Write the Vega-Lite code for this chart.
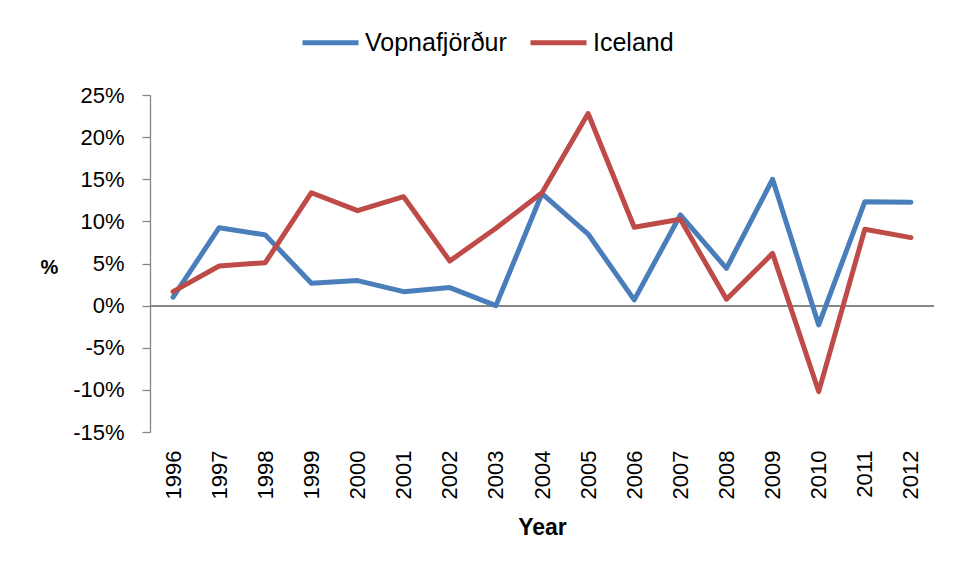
{
  "$schema": "https://vega.github.io/schema/vega-lite/v6.json",
  "width": 784,
  "height": 337,
  "autosize": {"type": "none"},
  "padding": {"left": 150, "top": 95, "right": 28, "bottom": 145},
  "background": "white",
  "config": {"font": "Liberation Sans", "view": {"stroke": null}},
  "data": {
    "values": [
      {"Year": "1996", "Series": "Vopnafjörður", "Value": 1.0},
      {"Year": "1997", "Series": "Vopnafjörður", "Value": 9.25},
      {"Year": "1998", "Series": "Vopnafjörður", "Value": 8.4},
      {"Year": "1999", "Series": "Vopnafjörður", "Value": 2.65},
      {"Year": "2000", "Series": "Vopnafjörður", "Value": 2.97},
      {"Year": "2001", "Series": "Vopnafjörður", "Value": 1.66},
      {"Year": "2002", "Series": "Vopnafjörður", "Value": 2.14},
      {"Year": "2003", "Series": "Vopnafjörður", "Value": 0.0},
      {"Year": "2004", "Series": "Vopnafjörður", "Value": 13.3},
      {"Year": "2005", "Series": "Vopnafjörður", "Value": 8.5},
      {"Year": "2006", "Series": "Vopnafjörður", "Value": 0.68},
      {"Year": "2007", "Series": "Vopnafjörður", "Value": 10.76},
      {"Year": "2008", "Series": "Vopnafjörður", "Value": 4.43},
      {"Year": "2009", "Series": "Vopnafjörður", "Value": 15.0},
      {"Year": "2010", "Series": "Vopnafjörður", "Value": -2.29},
      {"Year": "2011", "Series": "Vopnafjörður", "Value": 12.34},
      {"Year": "2012", "Series": "Vopnafjörður", "Value": 12.26},
      {"Year": "1996", "Series": "Iceland", "Value": 1.66},
      {"Year": "1997", "Series": "Iceland", "Value": 4.71},
      {"Year": "1998", "Series": "Iceland", "Value": 5.1},
      {"Year": "1999", "Series": "Iceland", "Value": 13.4},
      {"Year": "2000", "Series": "Iceland", "Value": 11.27},
      {"Year": "2001", "Series": "Iceland", "Value": 12.93},
      {"Year": "2002", "Series": "Iceland", "Value": 5.3},
      {"Year": "2003", "Series": "Iceland", "Value": 9.18},
      {"Year": "2004", "Series": "Iceland", "Value": 13.4},
      {"Year": "2005", "Series": "Iceland", "Value": 22.8},
      {"Year": "2006", "Series": "Iceland", "Value": 9.3},
      {"Year": "2007", "Series": "Iceland", "Value": 10.25},
      {"Year": "2008", "Series": "Iceland", "Value": 0.76},
      {"Year": "2009", "Series": "Iceland", "Value": 6.2},
      {"Year": "2010", "Series": "Iceland", "Value": -10.2},
      {"Year": "2011", "Series": "Iceland", "Value": 9.06},
      {"Year": "2012", "Series": "Iceland", "Value": 8.07}
    ]
  },
  "layer": [
    {
      "mark": {"type": "rule", "color": "#868686", "strokeWidth": 1.3},
      "encoding": {"y": {"datum": 0, "type": "quantitative", "scale": {"domain": [-15, 25], "nice": false}}}
    },
    {
      "mark": {"type": "line", "strokeWidth": 5, "strokeCap": "round", "strokeJoin": "round"},
      "encoding": {
        "x": {
          "field": "Year",
          "type": "ordinal",
          "scale": {"type": "point", "padding": 0.5},
          "axis": {
            "domain": false,
            "ticks": false,
            "labelAngle": -90,
            "labelFontSize": 22,
            "labelColor": "#000000",
            "labelPadding": 18,
            "title": "Year",
            "titleFontSize": 23,
            "titleFontWeight": "bold",
            "titleColor": "#000000",
            "titlePadding": 18
          }
        },
        "y": {
          "field": "Value",
          "type": "quantitative",
          "scale": {"domain": [-15, 25], "nice": false},
          "axis": {
            "values": [-15, -10, -5, 0, 5, 10, 15, 20, 25],
            "labelExpr": "datum.value + '%'",
            "grid": false,
            "domainColor": "#868686",
            "domainWidth": 1.3,
            "tickColor": "#868686",
            "tickWidth": 1.3,
            "tickSize": 8,
            "labelFontSize": 22,
            "labelColor": "#000000",
            "labelPadding": 18,
            "title": "%",
            "titleAngle": 0,
            "titleFontSize": 20,
            "titleFontWeight": "bold",
            "titleColor": "#000000",
            "titleX": -101,
            "titleY": 172,
            "titleAlign": "center",
            "titleBaseline": "middle"
          }
        },
        "color": {
          "field": "Series",
          "type": "nominal",
          "scale": {"domain": ["Vopnafjörður", "Iceland"], "range": ["#4A7EBB", "#BE4B48"]},
          "legend": {
            "title": null,
            "orient": "none",
            "direction": "horizontal",
            "legendX": 150,
            "legendY": -83,
            "symbolType": "stroke",
            "symbolSize": 3136,
            "symbolStrokeWidth": 5,
            "labelFontSize": 25,
            "labelColor": "#000000",
            "labelOffset": 4,
            "columnPadding": 13
          }
        }
      }
    }
  ]
}
